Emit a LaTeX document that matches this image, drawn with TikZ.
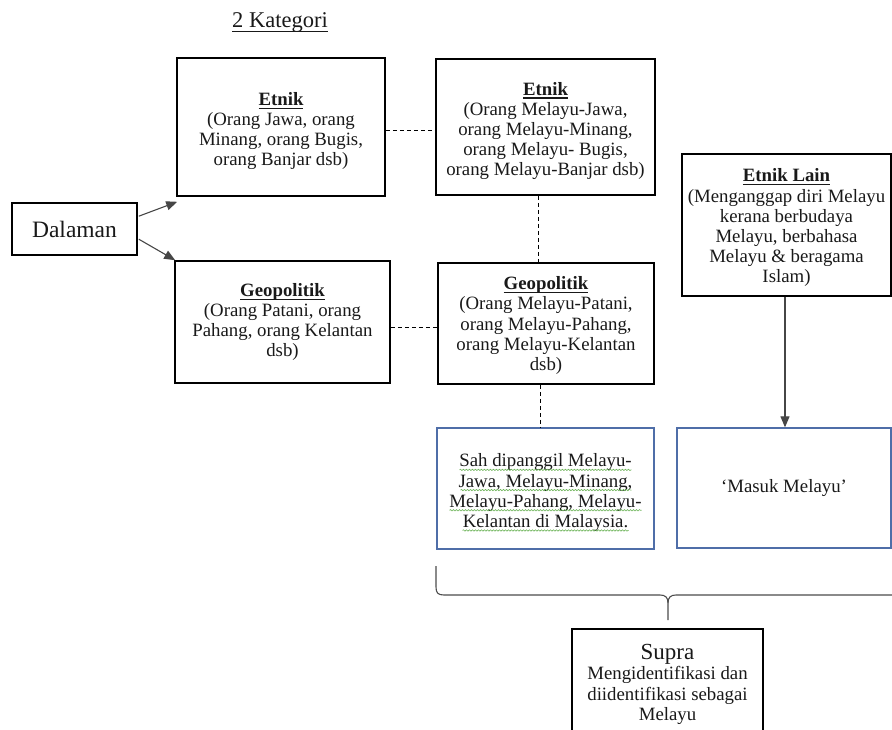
\documentclass[tikz,border=0pt]{standalone}
\usepackage{fontspec}
\setmainfont{Liberation Serif}
\usetikzlibrary{arrows.meta,decorations.pathmorphing,calc}
\definecolor{boxblue}{RGB}{79,110,168}
\definecolor{linegray}{RGB}{70,70,70}
\definecolor{squig}{RGB}{110,180,90}
\newcommand\myul[2]{\setbox0\hbox{#2}\rlap{\rule[-#1]{\wd0}{1.1pt}}\box0}
\newcommand\hdrul[1]{\myul{3.4pt}{\textbf{#1}}}
\begin{document}
\begin{tikzpicture}[x=1pt,y=-1pt,
  txt/.style={font=\fontsize{18.8}{20.2}\selectfont, align=center, inner sep=0pt, text=black!90},
  bbox/.style={txt, draw=black, line width=1.6pt},
  bluebox/.style={txt, draw=boxblue, line width=1.3pt},
  dashline/.style={draw=black, line width=0.8pt, dash pattern=on 4pt off 3pt},
  arr/.style={draw=linegray, line width=1.1pt, -{Triangle[length=11pt,width=9pt]}},
  bracestyle/.style={draw=black!70, line width=1.1pt},
  squiggle/.style={draw=squig, line width=0.6pt, decorate, decoration={snake, segment length=3pt, amplitude=0.7pt}}
]
\useasboundingbox (0,0) rectangle (892,730);
\clip (0,0) rectangle (892,730);

\node[txt, font=\fontsize{22.5}{26}\selectfont, anchor=base] (title) at (280,28) {\myul{4pt}{2 Kategori}};

\node[bbox, minimum width=208pt, minimum height=138pt, text height=82pt] (e1) at (281,127)
  {\hdrul{Etnik}\\(Orang Jawa, orang\\Minang, orang Bugis,\\orang Banjar dsb)};
\node[bbox, minimum width=219pt, minimum height=136pt, text height=102pt] (e2) at (545.5,127)
  {\hdrul{Etnik}\\(Orang Melayu-Jawa,\\orang Melayu-Minang,\\orang Melayu- Bugis,\\orang Melayu-Banjar dsb)};
\node[bbox, minimum width=125pt, minimum height=52pt, font=\fontsize{23.5}{27}\selectfont] (dal) at (74.5,229) {Dalaman};
\node[bbox, minimum width=215pt, minimum height=122pt] (g1) at (282.5,322)
  {\hdrul{Geopolitik}\\(Orang Patani, orang\\Pahang, orang Kelantan\\dsb)};
\node[bbox, minimum width=216pt, minimum height=121pt, text height=98pt] (g2) at (546,323.5)
  {\hdrul{Geopolitik}\\(Orang Melayu-Patani,\\orang Melayu-Pahang,\\orang Melayu-Kelantan\\dsb)};
\node[bbox, minimum width=209pt, minimum height=142pt, text height=120pt] (lain) at (786.5,225)
  {\hdrul{Etnik Lain}\\(Menganggap diri Melayu\\kerana berbudaya\\Melayu, berbahasa\\Melayu \& beragama\\Islam)};
\node[bluebox, minimum width=217pt, minimum height=121pt, text height=82pt] (sah) at (545.5,488.5)
  {Sah dipanggil Melayu-\\Jawa, Melayu-Minang,\\Melayu-Pahang, Melayu-\\Kelantan di Malaysia.};
\node[bluebox, minimum width=214pt, minimum height=120pt] (masuk) at (784,488) {‘Masuk Melayu’};
\node[bbox, minimum width=191pt, minimum height=111pt] (supra) at (667.5,684.5)
  {{\fontsize{23}{26}\selectfont Supra}\\Mengidentifikasi dan\\diidentifikasi sebagai\\Melayu};

% connectors
\draw[arr] ($(dal.north east)+(1,14)$) -- ($(e1.south west)+(1,5)$);
\draw[arr] ($(dal.north east)+(1,37)$) -- ($(g1.north west)+(1,0)$);
\draw[dashline] ($(e1.east)+(0,3)$) -- ($(e2.west)+(0,3)$);
\draw[dashline] ($(e2.south)+(-7.5,0)$) -- ($(g2.north)+(-8,0)$);
\draw[dashline] ($(g1.east)+(0,5)$) -- ($(g2.west)+(0,3.5)$);
\draw[dashline] ($(g2.south)+(-6,0)$) -- ($(sah.north)+(-5.5,0)$);
\draw[arr] ($(lain.south)+(-1.5,0)$) -- ($(masuk.north)+(1,0)$);

% brace
\coordinate (bl) at (436,566);
\coordinate (bt) at (668,620);
\draw[bracestyle] (bl) -- (436,587) .. controls (436,593) and (438,595) .. (444,595)
  -- (660,595) .. controls (665,595) and (668,597) .. (668,603) -- (bt);
\draw[bracestyle] (668,603) .. controls (668,597) and (671,595) .. (676,595) -- (895,595);

% spell-check squiggles
\foreach \ln/\aa/\bb in {3/-86/86, 2/-85/86, 1/-96/96, 0/-83/83}
  \draw[squiggle] ($(sah.base)+(\aa,3-20.2*\ln)$) -- ($(sah.base)+(\bb,3-20.2*\ln)$);
\end{tikzpicture}
\end{document}
